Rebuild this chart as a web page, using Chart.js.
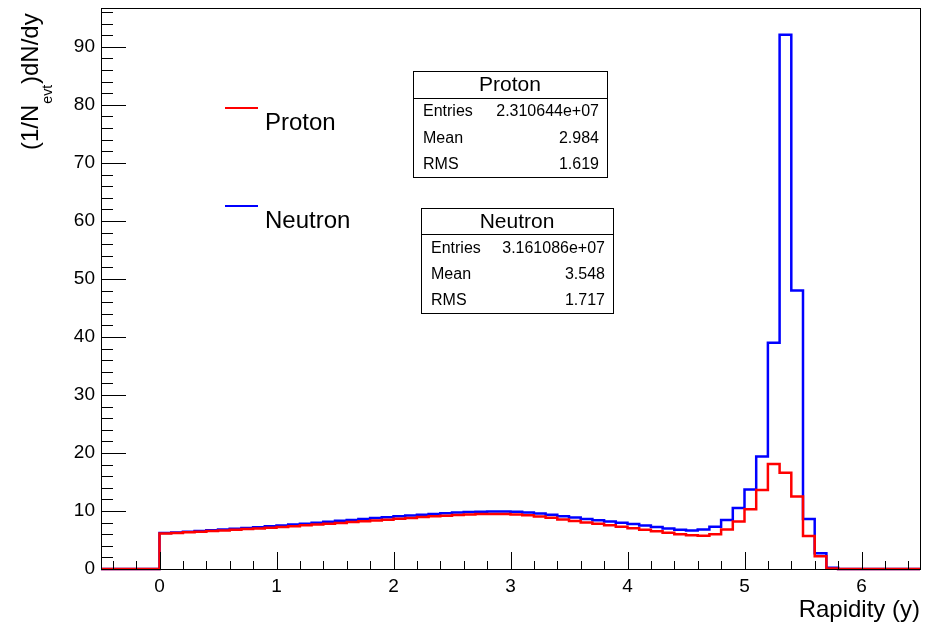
<!DOCTYPE html>
<html>
<head>
<meta charset="utf-8">
<script src="https://cdn.jsdelivr.net/npm/chart.js@4.4.1/dist/chart.umd.min.js"></script>
<style>
html, body { margin: 0; padding: 0; background: #fff; }
#wrap { width: 930px; height: 625px; }
</style>
</head>
<body>
<div id="wrap"><canvas id="c" width="930" height="625"></canvas></div>
<script>
// histogram binning: 70 bins of 0.1 from -0.5 to 6.5
const xMin = -0.5;
const xMax = 6.5;
const binWidth = 0.1;

// (1/Nevt) dN/dy per bin
const protonY = [
  0, 0, 0, 0, 0,
  6.12, 6.22, 6.32, 6.42, 6.53, 6.64, 6.76, 6.88, 7.00, 7.13,
  7.26, 7.39, 7.53, 7.67, 7.81, 7.95, 8.09, 8.23, 8.37, 8.51,
  8.65, 8.80, 8.95, 9.08, 9.20, 9.30, 9.40, 9.46, 9.50, 9.46,
  9.38, 9.25, 9.05, 8.82, 8.55, 8.28, 8.02, 7.78, 7.53, 7.28,
  7.02, 6.76, 6.50, 6.24, 6.00, 5.82,
  5.72, 6.00, 6.80, 8.20, 10.3, 13.6, 18.1, 16.6, 12.5, 5.7, 2.2, 0.1,
  0, 0, 0, 0, 0, 0, 0
];
const neutronY = [
  0, 0, 0, 0, 0,
  6.20, 6.31, 6.43, 6.55, 6.67, 6.80, 6.93, 7.07, 7.21, 7.36,
  7.51, 7.66, 7.82, 7.98, 8.14, 8.30, 8.46, 8.62, 8.78, 8.93,
  9.08, 9.22, 9.36, 9.49, 9.61, 9.72, 9.81, 9.88, 9.92, 9.92,
  9.86, 9.74, 9.56, 9.34, 9.10, 8.86, 8.62, 8.40, 8.18, 7.96,
  7.74, 7.50, 7.25, 7.00, 6.78, 6.64,
  6.80, 7.30, 8.45, 10.5, 13.7, 19.4, 39.0, 92.1, 48.0, 8.6, 2.7, 0.2,
  0, 0, 0, 0, 0, 0, 0
];

const xTickLabels = [0, 1, 2, 3, 4, 5, 6];
const yTickLabels = [0, 10, 20, 30, 40, 50, 60, 70, 80, 90];
const yMax = 96.7;

const statNames = ['Entries', 'Mean', 'RMS'];
const protonStats = ['2.310644e+07', '2.984', '1.619'];
const neutronStats = ['3.161086e+07', '3.548', '1.717'];

const FONT = '"Liberation Sans", Arial, Helvetica, sans-serif';

// step outline points, one per bin edge
function toSteps(vals) {
  var pts = [];
  for (var i = 0; i <= vals.length; i++) {
    var x = Math.round((xMin + i * binWidth) * 10) / 10;
    pts.push({ x: x, y: vals[Math.min(i, vals.length - 1)] });
  }
  return pts;
}

function statsBox(ctx, x, y, w, h, title, vals) {
  var rowH = h / 4;
  ctx.fillStyle = '#fff';
  ctx.fillRect(x, y, w, h);
  ctx.strokeStyle = '#000';
  ctx.lineWidth = 1;
  ctx.strokeRect(x + 0.5, y + 0.5, w, h);
  ctx.beginPath();
  ctx.moveTo(x, Math.round(y + rowH) + 0.5);
  ctx.lineTo(x + w, Math.round(y + rowH) + 0.5);
  ctx.stroke();
  ctx.fillStyle = '#000';
  ctx.textBaseline = 'middle';
  ctx.textAlign = 'center';
  ctx.font = '21px ' + FONT;
  ctx.fillText(title, x + w / 2, y + rowH / 2 + 1);
  ctx.font = '16px ' + FONT;
  for (var i = 0; i < 3; i++) {
    var cy = y + rowH * (i + 1.5) + 1;
    ctx.textAlign = 'left';
    ctx.fillText(statNames[i], x + 10, cy);
    ctx.textAlign = 'right';
    ctx.fillText(vals[i], x + w - 8, cy);
  }
}

const rootFrame = {
  id: 'rootFrame',
  afterDraw: function (chart) {
    var ctx = chart.ctx;
    var a = chart.chartArea;
    var xs = chart.scales.x, ys = chart.scales.y;
    ctx.save();
    ctx.strokeStyle = '#000';
    ctx.lineWidth = 1;
    ctx.strokeRect(Math.round(a.left) + 0.5, Math.round(a.top) + 0.5,
      Math.round(a.right - a.left), Math.round(a.bottom - a.top));

    // inside ticks, x axis
    ctx.beginPath();
    for (var k = -4; k <= 64; k += 2) {
      var v = k / 10;
      var px = Math.round(xs.getPixelForValue(v)) + 0.5;
      var len = (k % 10 === 0) ? 17 : 8;
      ctx.moveTo(px, a.bottom);
      ctx.lineTo(px, a.bottom - len);
    }
    // inside ticks, y axis
    for (var t = 0; t <= 96; t += 2) {
      var py = Math.round(ys.getPixelForValue(t)) + 0.5;
      var l2 = (t % 10 === 0) ? 25 : 12;
      ctx.moveTo(a.left, py);
      ctx.lineTo(a.left + l2, py);
    }
    ctx.stroke();

    // axis titles
    ctx.fillStyle = '#000';
    ctx.font = '24px ' + FONT;
    ctx.textAlign = 'right';
    ctx.textBaseline = 'alphabetic';
    ctx.fillText('Rapidity (y)', a.right, 617);

    ctx.save();
    ctx.translate(38, 150);
    ctx.rotate(-Math.PI / 2);
    ctx.textAlign = 'left';
    ctx.font = '24px ' + FONT;
    var p1 = '(1/N';
    ctx.fillText(p1, 0, 0);
    var w1 = ctx.measureText(p1).width;
    ctx.font = '14px ' + FONT;
    ctx.fillText('evt', w1 + 1, 14);
    var w2 = ctx.measureText('evt').width;
    ctx.font = '24px ' + FONT;
    ctx.fillText(')dN/dy', w1 + w2 + 2, 0);
    ctx.restore();

    // legend
    ctx.lineWidth = 2;
    ctx.strokeStyle = '#ff0000';
    ctx.beginPath(); ctx.moveTo(225, 108); ctx.lineTo(258, 108); ctx.stroke();
    ctx.strokeStyle = '#0000ff';
    ctx.beginPath(); ctx.moveTo(225, 206); ctx.lineTo(258, 206); ctx.stroke();
    ctx.fillStyle = '#000';
    ctx.textAlign = 'left';
    ctx.font = '24px ' + FONT;
    ctx.fillText('Proton', 265, 130);
    ctx.fillText('Neutron', 265, 228);

    // stats boxes
    statsBox(ctx, 413, 71, 194, 106, 'Proton', protonStats);
    statsBox(ctx, 421, 208, 192, 105, 'Neutron', neutronStats);
    ctx.restore();
  }
};

new Chart(document.getElementById('c'), {
  type: 'line',
  data: {
    datasets: [
      {
        label: 'Proton',
        data: toSteps(protonY),
        borderColor: '#ff0000',
        borderWidth: 2.5,
        stepped: 'before',
        pointRadius: 0,
        fill: false,
        clip: false,
        order: 0
      },
      {
        label: 'Neutron',
        data: toSteps(neutronY),
        borderColor: '#0000ff',
        borderWidth: 2.5,
        stepped: 'before',
        pointRadius: 0,
        fill: false,
        clip: false,
        order: 1
      }
    ]
  },
  options: {
    responsive: false,
    animation: false,
    events: [],
    layout: { padding: { top: 8, right: 10, left: 0, bottom: 0 } },
    plugins: { legend: { display: false }, tooltip: { enabled: false } },
    scales: {
      x: {
        type: 'linear',
        min: xMin,
        max: xMax,
        grid: { display: false, drawTicks: false },
        border: { display: false },
        ticks: { color: '#000', font: { size: 19, family: FONT }, padding: 6, maxRotation: 0, autoSkip: false },
        afterBuildTicks: function (s) { s.ticks = xTickLabels.map(function (v) { return { value: v }; }); },
        afterFit: function (s) { s.height = 56; s.paddingLeft = 0; s.paddingRight = 0; }
      },
      y: {
        type: 'linear',
        min: 0,
        max: yMax,
        grid: { display: false, drawTicks: false },
        border: { display: false },
        ticks: { color: '#000', font: { size: 19, family: FONT }, padding: 6, autoSkip: false },
        afterBuildTicks: function (s) { s.ticks = yTickLabels.map(function (v) { return { value: v }; }); },
        afterFit: function (s) { s.width = 101; s.paddingTop = 0; s.paddingBottom = 0; }
      }
    }
  },
  plugins: [rootFrame]
});
</script>
</body>
</html>
